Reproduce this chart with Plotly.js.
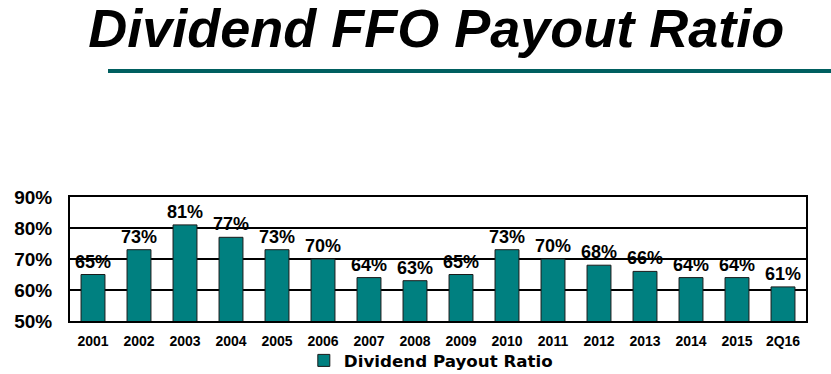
<!DOCTYPE html>
<html>
<head>
<meta charset="utf-8">
<script src="https://cdn.plot.ly/plotly-3.0.1.min.js"></script>
<style>html,body{margin:0;padding:0;background:#fff;}#chart{width:831px;height:374px;}</style>
</head>
<body>
<div id="chart"></div>
<script>
const categories = ["2001","2002","2003","2004","2005","2006","2007","2008","2009","2010","2011","2012","2013","2014","2015","2Q16"];
const payoutRatio = [65,73,81,77,73,70,64,63,65,73,70,68,66,64,64,61];
const yTickValues = [50,60,70,80,90];
const yTickLabels = ["50%","60%","70%","80%","90%"];
const seriesName = "Dividend Payout Ratio";
const chartTitle = "Dividend FFO Payout Ratio";

const trace = {
  type: "bar",
  x: categories,
  y: payoutRatio,
  name: seriesName,
  marker: {color: "#008080", line: {color: "#1a1a1a", width: 1}},
  text: payoutRatio.map(v => v + "%"),
  textposition: "outside",
  constraintext: "none",
  cliponaxis: false,
  textfont: {family: "Liberation Sans, Arial, sans-serif", size: 18, color: "#000", weight: "bold"},
  hoverinfo: "none"
};

const layout = {
  width: 831, height: 374,
  margin: {l: 70, r: 25, t: 197, b: 53},
  paper_bgcolor: "#fff",
  plot_bgcolor: "#fff",
  bargap: 0.48,
  showlegend: true,
  title: {
    text: chartTitle,
    xref: "container", x: 0.525, xanchor: "center",
    yref: "container", y: 0.976, yanchor: "top",
    font: {family: "Liberation Sans, Arial, sans-serif", size: 54, color: "#000", weight: "bold", style: "italic"}
  },
  xaxis: {
    type: "category",
    showline: true, linecolor: "#000", linewidth: 2, mirror: true,
    ticks: "", showgrid: false,
    ticklabelstandoff: 6,
    automargin: false,
    tickfont: {family: "Liberation Sans, Arial, sans-serif", size: 14, color: "#000", weight: "bold"}
  },
  yaxis: {
    range: [50, 90],
    tickvals: yTickValues, ticktext: yTickLabels,
    showline: true, linecolor: "#000", linewidth: 2, mirror: true,
    showgrid: true, gridcolor: "#000", gridwidth: 2,
    zeroline: false, ticks: "",
    ticklabelstandoff: 12,
    automargin: false,
    tickfont: {family: "Liberation Sans, Arial, sans-serif", size: 19, color: "#000", weight: "bold"}
  },
  legend: {
    orientation: "h", xref: "container", yref: "container",
    x: 0.3656, xanchor: "left", y: 0.036, yanchor: "middle",
    bgcolor: "rgba(0,0,0,0)",
    font: {family: "DejaVu Sans, Verdana, sans-serif", size: 16.7, color: "#000", weight: "bold"},
    itemwidth: 30
  },
  shapes: [{
    type: "line", xref: "paper", yref: "paper",
    x0: (108-70)/736, x1: (831-70)/736, y0: (321-71)/124, y1: (321-71)/124,
    line: {color: "#005f60", width: 4}
  }]
};

Plotly.newPlot("chart", [trace], layout, {displayModeBar: false, staticPlot: true});
</script>
</body>
</html>
